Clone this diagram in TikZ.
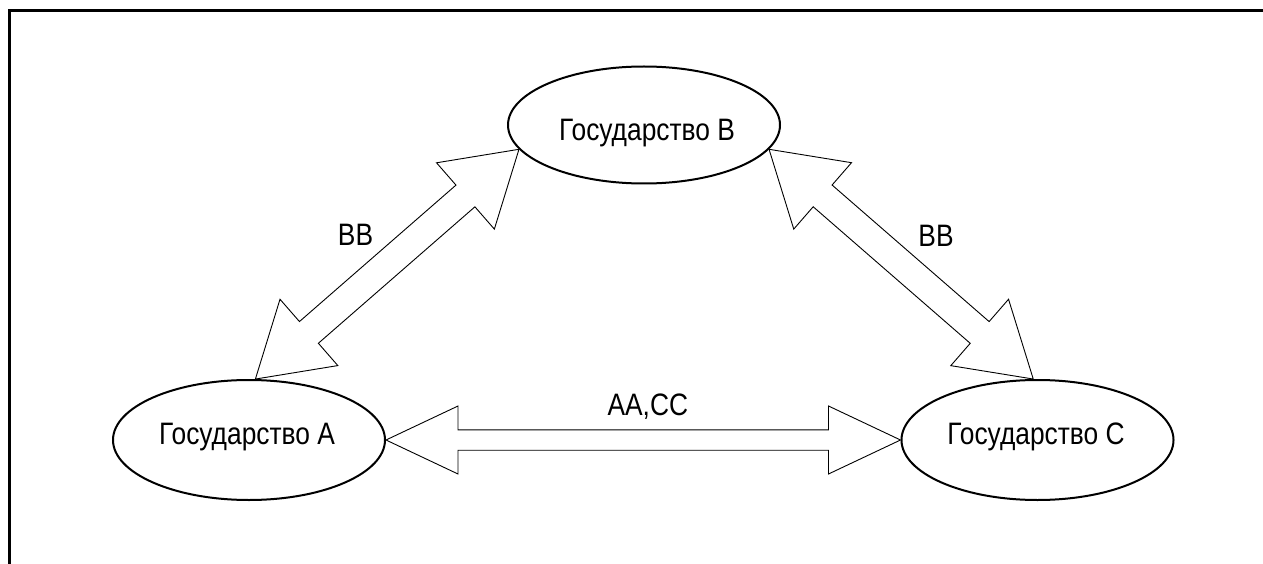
\documentclass[tikz,border=0pt]{standalone}
\usepackage{fontspec}
\setmainfont{Liberation Sans}[FakeStretch=0.85]
\usetikzlibrary{shapes.geometric,calc}
\newcommand\blockarrow[5]{% #1,#2 tips; #3 head length; #4 head half width; #5 shaft half width
  \draw[arrowline]
    (#1) -- ($(#1)!#3!(#2)!#4!90:(#2)$) -- ($(#1)!#3!(#2)!#5!90:(#2)$)
    -- ($(#2)!#3!(#1)!#5!-90:(#1)$) -- ($(#2)!#3!(#1)!#4!-90:(#1)$)
    -- (#2) -- ($(#2)!#3!(#1)!#4!90:(#1)$) -- ($(#2)!#3!(#1)!#5!90:(#1)$)
    -- ($(#1)!#3!(#2)!#5!-90:(#2)$) -- ($(#1)!#3!(#2)!#4!-90:(#2)$) -- cycle;}
\begin{document}
\begin{tikzpicture}[x=1pt,y=-1pt,
  frame/.style={line width=2.5pt,black},
  state/.style={ellipse,draw=black,line width=2pt,minimum width=272pt,inner sep=0pt},
  statelabel/.style={anchor=base,inner sep=0pt,font=\fontsize{31}{37}\selectfont},
  arrowlabel/.style={anchor=base,inner sep=0pt,font=\fontsize{31}{37}\selectfont},
  arrowline/.style={draw=black,line width=0.9pt,fill=white,line join=miter}]
\useasboundingbox (0,0) rectangle (1263,564);
\draw[frame] (9.3,564) -- (9.3,10.5) -- (1263,10.5);
% states
\node[state,minimum height=117pt] (B) at (644,125) {};
\node[state,minimum height=120pt] (A) at (249,440) {};
\node[state,minimum height=120pt] (C) at (1037.5,440) {};
\node[statelabel] (Blab) at (647,140.7) {Государство B};
\node[statelabel] (Alab) at (247,444) {Государство A};
\node[statelabel] (Clab) at (1036,444) {Государство C};
% arrow ends
\coordinate (ab1) at (A.84);
\coordinate (ab2) at (B.191);
\coordinate (cb1) at (C.94);
\coordinate (cb2) at (B.349);
% arrows
\blockarrow{ab1}{ab2}{71pt}{44pt}{14.4pt}
\blockarrow{cb1}{cb2}{71pt}{44pt}{14.4pt}
\blockarrow{A.east}{C.west}{72pt}{34pt}{10.2pt}
% labels
\node[arrowlabel] (lab1) at (355.5,245) {BB};
\node[arrowlabel] (lab2) at (936,246) {BB};
\node[arrowlabel] (lab3) at (647.8,415) {AA,CC};
\end{tikzpicture}
\end{document}
